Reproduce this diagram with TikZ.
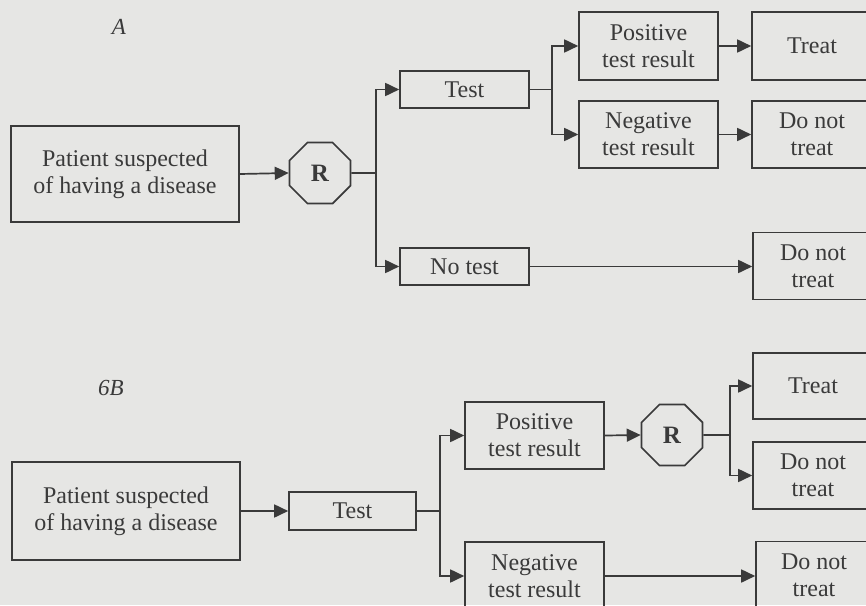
\documentclass[tikz,border=0pt]{standalone}
\usepackage{fontspec}
\setmainfont{Liberation Serif}
\usetikzlibrary{arrows.meta,shapes.geometric}
\definecolor{bg}{HTML}{E6E6E4}
\definecolor{ink}{HTML}{3A3A3A}
\begin{document}
\begin{tikzpicture}[x=1pt,y=-1pt,
  every node/.style={text=ink,font=\fontsize{24}{27}\selectfont},
  box/.style={draw=ink,line width=1.6pt,rectangle,inner sep=0pt,align=center,minimum width=#1},
  box/.default=139pt,
  oct/.style={draw=ink,line width=1.6pt,regular polygon,regular polygon sides=8,minimum size=66pt,inner sep=0pt,font=\fontsize{25}{27}\selectfont\bfseries},
  lbl/.style={font=\fontsize{23}{27}\selectfont\itshape},
  link/.style={draw=ink,line width=1.7pt},
  arr/.style={link,-{Triangle[length=14pt,width=13pt]}}]
\fill[bg] (0,0) rectangle (866,605);
\useasboundingbox (0,0) rectangle (866,605);
\clip (0,0) rectangle (866,605);
% Panel A
\node[lbl] (labA) at (119,27) {A};
\node[box=228pt,minimum height=96pt] (pA) at (125,174) {Patient suspected\\of having a disease};
\node[oct] (RA) at (320,173) {R};
\node[box=129pt,minimum height=37pt] (testA) at (464.5,89.5) {Test};
\node[box=129pt,minimum height=37pt] (notestA) at (464.5,266.5) {No test};
\node[box,minimum height=68pt] (posA) at (648.5,46) {Positive\\test result};
\node[box,minimum height=67pt] (negA) at (648.5,134.5) {Negative\\test result};
\node[box=120pt,minimum height=68pt] (treatA) at (812,46) {Treat};
\node[box=120pt,minimum height=67pt] (dntA1) at (812,134.5) {Do not\\treat};
\node[box=120pt,minimum height=67pt] (dntA2) at (813,266) {Do not\\treat};
\coordinate (bA) at (376,173);
\coordinate (bA2) at (552,89.5);
\draw[arr] (pA.east) -- (RA.west);
\draw[link] (RA.east) -- (bA);
\draw[arr] (bA) |- (testA.west);
\draw[arr] (bA) |- (notestA.west);
\draw[link] (testA.east) -- (bA2);
\draw[arr] (bA2) |- (posA.west);
\draw[arr] (bA2) |- (negA.west);
\draw[arr] (posA.east) -- (treatA.west);
\draw[arr] (negA.east) -- (dntA1.west);
\draw[arr] (notestA.east) -- (notestA.east -| dntA2.west);
% Panel B
\node[lbl] (labB) at (111,388) {6B};
\node[box=228pt,minimum height=98pt] (pB) at (126,511) {Patient suspected\\of having a disease};
\node[box=127pt,minimum height=38pt] (testB) at (352.5,511) {Test};
\node[box,minimum height=67pt] (posB) at (534.5,435.5) {Positive\\test result};
\node[oct] (RB) at (672,435) {R};
\node[box=120pt,minimum height=66pt] (treatB) at (813,386) {Treat};
\node[box=120pt,minimum height=67pt] (dntB1) at (813,475.5) {Do not\\treat};
\node[box,minimum height=68pt] (negB) at (534.5,576) {Negative\\test result};
\node[box=116pt,minimum height=67pt] (dntB2) at (814,575) {Do not\\treat};
\coordinate (bB) at (440,511);
\coordinate (bB2) at (730,435);
\draw[arr] (pB.east) -- (testB.west);
\draw[link] (testB.east) -- (bB);
\draw[arr] (bB) |- (posB.west);
\draw[arr] (bB) |- (negB.west);
\draw[arr] (posB.east) -- (RB.west);
\draw[link] (RB.east) -- (bB2);
\draw[arr] (bB2) |- (treatB.west);
\draw[arr] (bB2) |- (dntB1.west);
\draw[arr] (negB.east) -- (negB.east -| dntB2.west);
\end{tikzpicture}
\end{document}
